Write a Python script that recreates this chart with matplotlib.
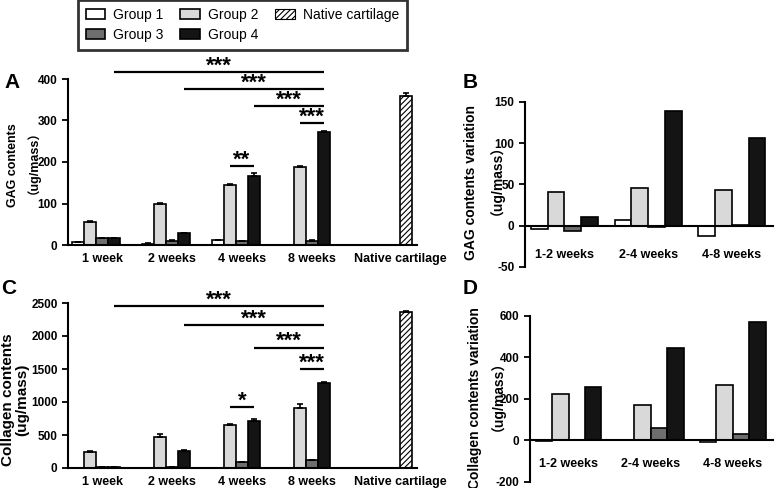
import matplotlib
matplotlib.use('Agg')
import matplotlib.pyplot as plt
from matplotlib.patches import Patch

plt.rcParams['font.family'] = ['Liberation Sans', 'Noto Sans CJK SC', 'DejaVu Sans']
plt.rcParams['hatch.linewidth'] = 0.8

# ---------------- data ----------------
group_names = ['Group 1', 'Group 2', 'Group 3', 'Group 4', 'Native cartilage']
time_labels = ['1 week', '2 weeks', '4 weeks', '8 weeks', 'Native cartilage']
var_labels = ['1-2 weeks', '2-4 weeks', '4-8 weeks']

gag_g1 = [7, 3, 11, 0]
gag_g2 = [56, 99, 144, 187]
gag_g3 = [17, 10, 9, 10]
gag_g4 = [17, 28, 167, 273]
gag_native = 359
gag_err_g1 = [1, 1, 1, 0]
gag_err_g2 = [3, 2, 3, 3]
gag_err_g3 = [1, 1, 1, 1]
gag_err_g4 = [1, 1, 6, 2]
gag_err_native = 7

col_g1 = [3, 3, 3, 0]
col_g2 = [250, 475, 650, 915]
col_g3 = [20, 20, 85, 115]
col_g4 = [10, 265, 715, 1285]
col_native = 2365
col_err_g1 = [0, 0, 0, 0]
col_err_g2 = [15, 35, 20, 50]
col_err_g3 = [2, 2, 8, 8]
col_err_g4 = [3, 10, 20, 15]
col_err_native = 15

gag_var_g1 = [-4, 7, -12]
gag_var_g2 = [41, 45, 43]
gag_var_g3 = [-7, -1, 0.5]
gag_var_g4 = [11, 139, 106]

col_var_g1 = [-3, 2, -8]
col_var_g2 = [225, 169, 265]
col_var_g3 = [0, 58, 32]
col_var_g4 = [254, 445, 569]

# significance: (from time index, from group idx, to time idx, to group idx, height, label)
gag_sig = [(0, 3, 3, 3, 417, '***'), (1, 3, 3, 3, 376, '***'), (2, 3, 3, 3, 335, '***'),
           (3, 1, 3, 3, 294, '***'), (2, 1, 2, 3, 190, '**')]
col_sig = [(0, 3, 3, 3, 2450, '***'), (1, 3, 3, 3, 2165, '***'), (2, 3, 3, 3, 1825, '***'),
           (3, 1, 3, 3, 1500, '***'), (2, 1, 2, 3, 925, '*')]

colors = ['white', '#d9d9d9', '#6e6e6e', '#141414']
EDGE = 'black'
BLW = 1.2

W = 777.0
H = 488.0
fig = plt.figure(figsize=(7.77, 4.88), dpi=100)


def axes_px(left, right, top, bottom):
    return fig.add_axes([left / W, 1 - bottom / H, (right - left) / W, (bottom - top) / H])


def style_axes(ax):
    for s in ['top', 'right']:
        ax.spines[s].set_visible(False)
    for s in ['left', 'bottom']:
        ax.spines[s].set_linewidth(1.5)
    ax.tick_params(axis='y', direction='out', length=4, width=1.3, labelsize=8.5)
    ax.tick_params(axis='x', length=0, labelsize=9)
    for lab in ax.get_yticklabels():
        lab.set_fontweight('bold')
    for lab in ax.get_xticklabels():
        lab.set_fontweight('bold')


def grouped_panel(ax, series, errs, native, native_err, ylim, yticks, sig, star_size):
    w = 0.171
    nt = len(series[0])
    for k, (vals, ev) in enumerate(zip(series, errs)):
        xs = [i + (k - 2) * w for i in range(nt)]
        ax.bar(xs, vals, width=w, color=colors[k], edgecolor=EDGE, linewidth=BLW, zorder=2)
        for x, v, e in zip(xs, vals, ev):
            if e > 0:
                ax.errorbar([x], [v], yerr=[[0], [e]], fmt='none', ecolor='black',
                            elinewidth=1.2, capsize=2.5, capthick=1.2, zorder=3)
    xn = nt + 2 * w
    ax.bar([xn], [native], width=w, color='white', edgecolor=EDGE, linewidth=BLW,
           hatch='//////', zorder=2)
    ax.errorbar([xn], [native], yerr=[[0], [native_err]], fmt='none', ecolor='black',
                elinewidth=1.2, capsize=2.5, capthick=1.2, zorder=3)
    ax.set_xlim(-0.486, 4.5)
    ax.set_ylim(*ylim)
    ax.set_yticks(yticks)
    ax.set_yticklabels([str(t) for t in yticks])
    ax.set_xticks([0, 1, 2, 3, 4.26])
    ax.set_xticklabels(time_labels)
    style_axes(ax)
    ax.tick_params(axis='x', pad=6)
    for (t0, g0, t1, g1, yv, lab) in sig:
        x0 = t0 + (g0 - 2) * w
        x1 = t1 + (g1 - 2) * w
        ax.plot([x0, x1], [yv, yv], color='black', lw=1.6, clip_on=False, zorder=4,
                solid_capstyle='butt')
        ax.annotate(lab, xy=((x0 + x1) / 2, yv), xytext=(0, 0.3), textcoords='offset points',
                    ha='center', va='baseline', fontsize=star_size, fontweight='bold',
                    annotation_clip=False)


def var_panel(ax, series, ylim, yticks, pad):
    w = 0.2
    for k, vals in enumerate(series):
        xs = [i + (k - 1.5) * w for i in range(len(vals))]
        ax.bar(xs, vals, width=w, color=colors[k], edgecolor=EDGE, linewidth=BLW, zorder=2)
    ax.set_xlim(-0.47, 2.49)
    ax.set_ylim(*ylim)
    ax.set_yticks(yticks)
    ax.set_yticklabels([str(t) for t in yticks])
    ax.set_xticks(range(3))
    ax.set_xticklabels(var_labels)
    ax.spines['bottom'].set_position(('data', 0))
    style_axes(ax)
    ax.tick_params(axis='x', pad=pad)


def ylabel_px(lines, xs, ys, size):
    for text, x, y in zip(lines, xs, ys):
        fig.text(x / W, 1 - y / H, text, rotation=90, ha='center', va='center',
                 fontsize=size, fontweight='bold')


# Panel A
axA = axes_px(68, 417, 79, 245)
grouped_panel(axA, [gag_g1, gag_g2, gag_g3, gag_g4],
              [gag_err_g1, gag_err_g2, gag_err_g3, gag_err_g4],
              gag_native, gag_err_native, (0, 400), [0, 100, 200, 300, 400], gag_sig, 16)
ylabel_px(['GAG contents', '（ug/mass）'], [13, 27], [165, 156], 9)

# Panel C
axC = axes_px(68, 417, 303, 468)
grouped_panel(axC, [col_g1, col_g2, col_g3, col_g4],
              [col_err_g1, col_err_g2, col_err_g3, col_err_g4],
              col_native, col_err_native, (0, 2500), [0, 500, 1000, 1500, 2000, 2500], col_sig, 16)
ylabel_px(['Collagen contents', '(ug/mass)'], [8, 22], [400, 400], 11)

# Panel B
axB = axes_px(525, 773, 101.7, 267)
var_panel(axB, [gag_var_g1, gag_var_g2, gag_var_g3, gag_var_g4], (-50, 150),
          [-50, 0, 50, 100, 150], 17)
ylabel_px(['GAG contents variation', '（ug/mass）'], [471, 489], [182, 173], 10)

# Panel D
axD = axes_px(530, 773, 315.7, 481.7)
var_panel(axD, [col_var_g1, col_var_g2, col_var_g3, col_var_g4], (-200, 600),
          [-200, 0, 200, 400, 600], 13)
ylabel_px(['Collagen contents variation', '（ug/mass）'], [475, 490], [398, 389], 10)

# Panel letters
for lab, x, y in [('A', 12, 82), ('B', 470, 82), ('C', 9, 289), ('D', 470, 289)]:
    fig.text(x / W, 1 - y / H, lab, fontsize=15, fontweight='bold', ha='center', va='center')

# Legend
handles = [Patch(facecolor=colors[0], edgecolor=EDGE, linewidth=BLW),
           Patch(facecolor=colors[2], edgecolor=EDGE, linewidth=BLW),
           Patch(facecolor=colors[1], edgecolor=EDGE, linewidth=BLW),
           Patch(facecolor=colors[3], edgecolor=EDGE, linewidth=BLW),
           Patch(facecolor='white', edgecolor=EDGE, linewidth=0.8, hatch='//////')]
labels = [group_names[0], group_names[2], group_names[1], group_names[3], group_names[4]]
leg = fig.legend(handles, labels, ncol=3, loc='upper left', bbox_to_anchor=(78 / W, 1.0),
                 frameon=True, fancybox=False, edgecolor='black', fontsize=10,
                 handlelength=1.4, handleheight=0.7, handletextpad=0.6, columnspacing=1.2,
                 labelspacing=0.45, borderpad=0.55, borderaxespad=0)
leg.get_frame().set_linewidth(2)

fig.savefig('out.png', dpi=100)
